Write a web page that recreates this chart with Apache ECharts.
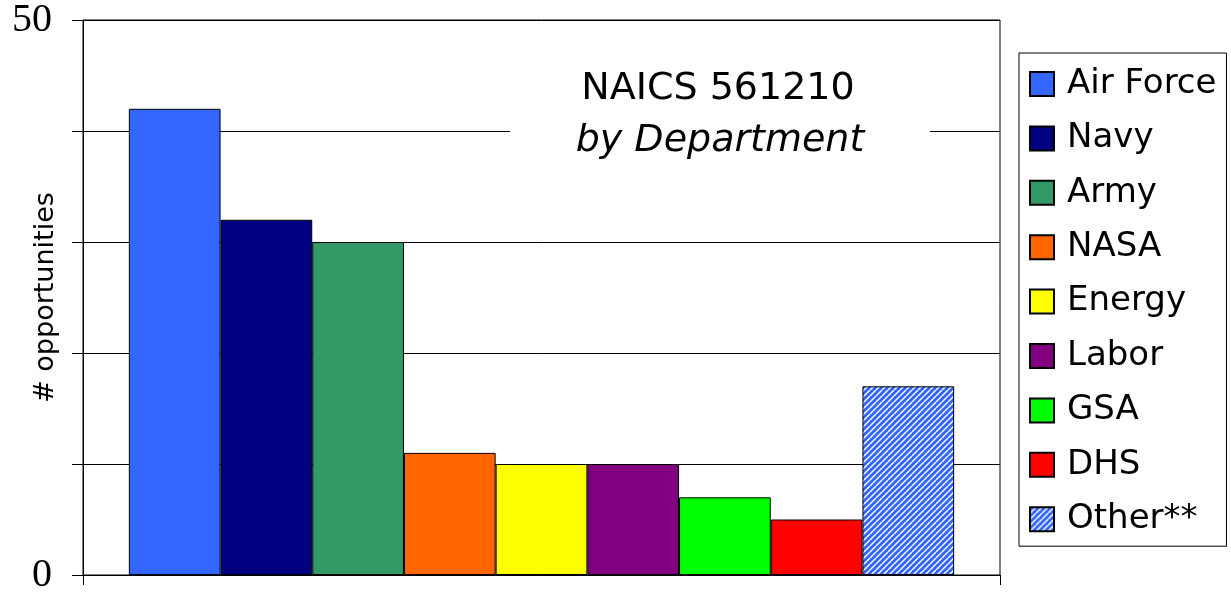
<!DOCTYPE html>
<html><head><meta charset="utf-8">
<script src="https://cdn.jsdelivr.net/npm/echarts@6/dist/echarts.min.js"></script>
<style>html,body{margin:0;padding:0;background:#fff}#c{width:1231px;height:592px}</style>
</head><body><div id="c"></div>
<script>
const categories = [''];
const departments = ['Air Force','Navy','Army','NASA','Energy','Labor','GSA','DHS','Other**'];
const values = [42, 32, 30, 11, 10, 10, 7, 5, 17];
const colors = ['#3366FF','#000080','#339966','#FF6600','#FFFF00','#800080','#00FF00','#FF0000','hatch'];
const yTickLabels = {0:'0', 50:'50'};

function hatch(){
  const s = 6, c = document.createElement('canvas');
  c.width = s; c.height = s;
  const g = c.getContext('2d');
  g.fillStyle = '#3366FF'; g.fillRect(0,0,s,s);
  g.strokeStyle = '#ffffff'; g.lineWidth = 1.4;
  for (const k of [-s,0,s]) { g.beginPath(); g.moveTo(k, s); g.lineTo(k+s, 0); g.stroke(); }
  return {image: c, repeat: 'repeat'};
}

const chart = echarts.init(document.getElementById('c'), null, {renderer:'canvas'});
const series = departments.map((d,i)=>({
  name: d, type: 'bar', data: [values[i]],
  barGap: '0%', barCategoryGap: '10%',
  itemStyle: {color: colors[i]==='hatch' ? hatch() : colors[i], borderColor:'#000', borderWidth:1},
  emphasis: {disabled:true}
}));
chart.setOption({
  animation:false,
  textStyle:{fontFamily:'DejaVu Sans'},
  grid:{left:83, right:231, top:20, bottom:17, containLabel:false, outerBoundsMode:'none',
    show:true, borderColor:'#000', borderWidth:1, backgroundColor:'transparent'},
  xAxis:{type:'category', data:categories,
    axisLine:{lineStyle:{color:'#000', width:1}},
    axisTick:{show:true, length:10, lineStyle:{color:'#000'}},
    axisLabel:{show:false}},
  yAxis:{type:'value', min:0, max:50, interval:10,
    name:'# opportunities', nameLocation:'middle', nameGap:24, nameRotate:90, nameMoveOverlap:false,
    nameTextStyle:{fontFamily:'DejaVu Sans', fontSize:27, color:'#000'},
    axisLine:{show:true, lineStyle:{color:'#000', width:1}},
    axisTick:{show:true, length:11, lineStyle:{color:'#000'}},
    splitLine:{show:true, lineStyle:{color:'#000', width:1}},
    axisLabel:{margin:31, fontFamily:'Liberation Serif', fontSize:40, color:'#000',
      formatter:v=> (yTickLabels[v]!==undefined ? yTickLabels[v] : '')}},
  legend:{orient:'vertical', left:1019, top:53, data:departments,
    backgroundColor:'#fff', borderColor:'#000', borderWidth:1,
    padding:[14,10,10,10], itemWidth:24, itemHeight:24, itemGap:20.4,
    icon:'rect',
    textStyle:{fontFamily:'DejaVu Sans', fontSize:34, color:'#000', lineHeight:34, padding:[0,0,0,8]}},
  graphic:[{type:'group', children:[
    {type:'rect', shape:{x:510, y:55, width:420, height:112}, style:{fill:'#fff'}, z:10},
    {type:'text', x:718, y:89, z:11, style:{text:'NAICS 561210', fontFamily:'DejaVu Sans', fontSize:38, fill:'#000', align:'center', verticalAlign:'middle'}},
    {type:'text', x:720, y:141, z:11, style:{text:'by Department', fontFamily:'DejaVu Sans', fontStyle:'italic', fontSize:38, fill:'#000', align:'center', verticalAlign:'middle'}}
  ]}],
  series: series
});
</script></body></html>
